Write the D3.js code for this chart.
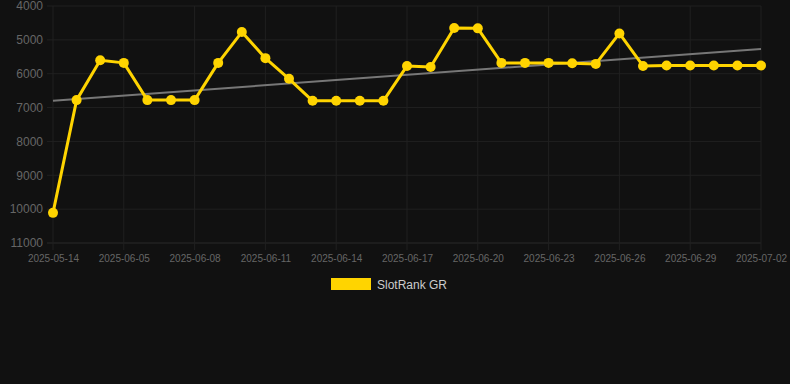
<!DOCTYPE html>
<html>
<head>
<meta charset="utf-8">
<script src="https://cdn.jsdelivr.net/npm/d3@7"></script>
<style>
  body { margin: 0; background: #111111; }
  svg { display: block; }
</style>
</head>
<body>
<div id="chart"></div>
<script>
// SlotRank GR rank over time (lower is better, so the y axis is reversed)

const dates = [
  "2025-05-14", "2025-06-03", "2025-06-04", "2025-06-05", "2025-06-06", "2025-06-07",
  "2025-06-08", "2025-06-09", "2025-06-10", "2025-06-11", "2025-06-12", "2025-06-13",
  "2025-06-14", "2025-06-15", "2025-06-16", "2025-06-17", "2025-06-18", "2025-06-19",
  "2025-06-20", "2025-06-21", "2025-06-22", "2025-06-23", "2025-06-24", "2025-06-25",
  "2025-06-26", "2025-06-27", "2025-06-28", "2025-06-29", "2025-06-30", "2025-07-01",
  "2025-07-02"
];

const ranks = [
  10110, 6780, 5600, 5680, 6780, 6780,
  6780, 5680, 4770, 5540, 6150, 6800,
  6800, 6800, 6800, 5770, 5800, 4650,
  4660, 5680, 5680, 5680, 5690, 5710,
  4810, 5770, 5760, 5760, 5760, 5760,
  5760
];

// trend line values at first and last date
const trendValues = [6800, 5270];

const yTicks = [4000, 5000, 6000, 7000, 8000, 9000, 10000, 11000];
const seriesName = "SlotRank GR";

const width = 790;
const height = 384;
const margin = { top: 6, right: 29, bottom: 141, left: 53 };
const gold = "#ffd400";

const svg = d3.select("#chart").append("svg")
  .attr("width", width)
  .attr("height", height)
  .style("font-family", "'Liberation Sans', Arial, sans-serif")
  .style("background", "#111111");

const x = d3.scalePoint()
  .domain(dates)
  .range([margin.left, width - margin.right]);

const y = d3.scaleLinear()
  .domain([4000, 11000])
  .range([margin.top, height - margin.bottom]);

const labelDates = dates.filter((d, i) => i % 3 === 0);

// horizontal grid
svg.append("g")
  .selectAll("line")
  .data(yTicks)
  .enter()
  .append("line")
  .attr("x1", margin.left - 6)
  .attr("x2", width - margin.right)
  .attr("y1", d => y(d))
  .attr("y2", d => y(d))
  .attr("stroke", d => d === 11000 ? "#2a2a2a" : "#202020")
  .attr("stroke-width", 1);

// vertical grid
svg.append("g")
  .selectAll("line")
  .data(labelDates)
  .enter()
  .append("line")
  .attr("x1", d => x(d))
  .attr("x2", d => x(d))
  .attr("y1", margin.top)
  .attr("y2", height - margin.bottom + 7)
  .attr("stroke", "#202020")
  .attr("stroke-width", 1);

// y axis labels
const yAxis = svg.append("g")
  .attr("transform", `translate(${margin.left - 10},0)`)
  .call(d3.axisLeft(y).tickValues(yTicks).tickSize(0).tickPadding(0).tickFormat(d3.format("d")));
yAxis.select(".domain").remove();
yAxis.selectAll("text")
  .attr("fill", "#666666")
  .style("font-size", "12px")
  .style("font-family", "'Liberation Sans', Arial, sans-serif");

// x axis labels
const xAxis = svg.append("g")
  .attr("transform", `translate(0,${height - margin.bottom})`)
  .call(d3.axisBottom(x).tickValues(labelDates).tickSize(0).tickPadding(12));
xAxis.select(".domain").remove();
xAxis.selectAll("text")
  .attr("fill", "#666666")
  .style("font-size", "10px")
  .style("font-family", "'Liberation Sans', Arial, sans-serif");

// trend line
svg.append("line")
  .attr("x1", x(dates[0]))
  .attr("x2", x(dates[dates.length - 1]))
  .attr("y1", y(trendValues[0]))
  .attr("y2", y(trendValues[1]))
  .attr("stroke", "#777777")
  .attr("stroke-width", 2);

// rank line
const line = d3.line()
  .x((d, i) => x(dates[i]))
  .y(d => y(d));

svg.append("path")
  .datum(ranks)
  .attr("d", line)
  .attr("fill", "none")
  .attr("stroke", gold)
  .attr("stroke-width", 3)
  .attr("stroke-linejoin", "round");

svg.append("g")
  .selectAll("circle")
  .data(ranks)
  .enter()
  .append("circle")
  .attr("cx", (d, i) => x(dates[i]))
  .attr("cy", d => y(d))
  .attr("r", 5)
  .attr("fill", gold);

// legend
const legend = svg.append("g")
  .attr("transform", "translate(331,278)");

legend.append("rect")
  .attr("width", 40)
  .attr("height", 12)
  .attr("fill", gold);

legend.append("text")
  .attr("x", 46)
  .attr("y", 11)
  .attr("fill", "#cccccc")
  .style("font-size", "12px")
  .text(seriesName);
</script>
</body>
</html>
